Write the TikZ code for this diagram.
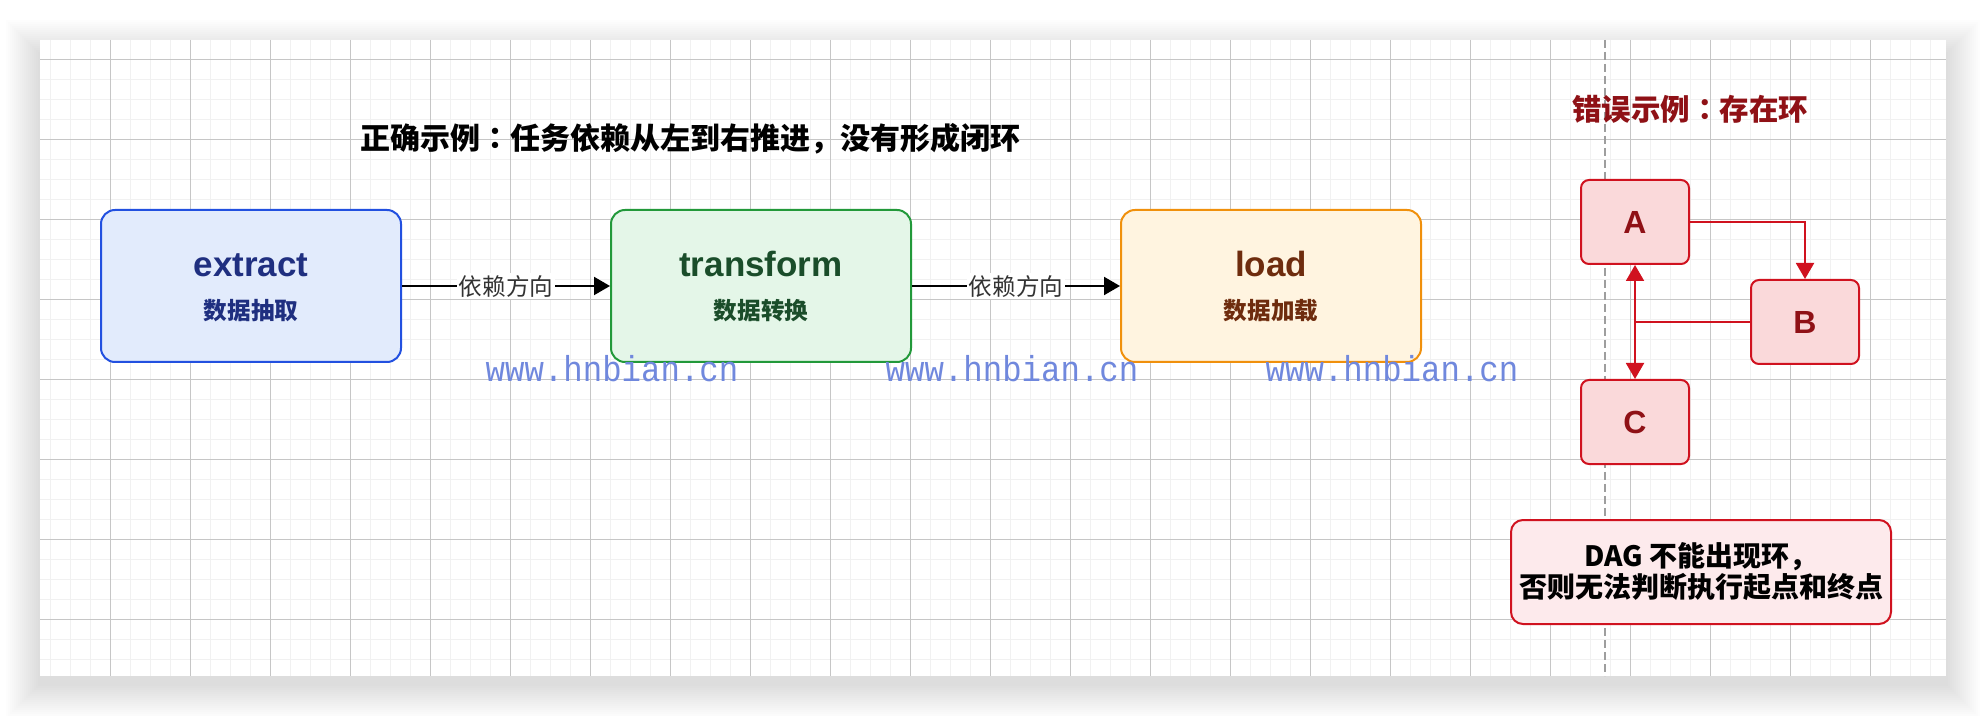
\documentclass[tikz,border=0pt]{standalone}
\usepackage{fontspec}
\setmainfont{Liberation Sans}
\newfontfamily\cjk{Noto Sans CJK SC}
\newfontfamily\cjktc{Noto Sans CJK TC}
\newfontfamily\wmfont[FakeStretch=0.9]{Liberation Mono}
\usetikzlibrary{arrows.meta}
\definecolor{gridminor}{HTML}{F1F1F1}
\definecolor{gridmajor}{HTML}{C6C6C6}
\definecolor{extractdraw}{HTML}{2250E0}
\definecolor{extractfill}{HTML}{E2EBFC}
\definecolor{extracttext}{HTML}{1F2F80}
\definecolor{transformdraw}{HTML}{22993A}
\definecolor{transformfill}{HTML}{E4F6E8}
\definecolor{transformtext}{HTML}{1A4D2A}
\definecolor{loaddraw}{HTML}{F0900C}
\definecolor{loadfill}{HTML}{FFF4E0}
\definecolor{loadtext}{HTML}{6E2C0E}
\definecolor{errred}{HTML}{D0121F}
\definecolor{errfill}{HTML}{FAD9DA}
\definecolor{notefill}{HTML}{FDEAEC}
\definecolor{errtext}{HTML}{8F1116}
\definecolor{labelgray}{HTML}{333333}
\definecolor{wmblue}{HTML}{7088DD}
\begin{document}
\begin{tikzpicture}[x=0.5pt,y=-0.5pt,
  minorline/.style={draw=gridminor,line width=0.75pt},
  majorline/.style={draw=gridmajor,line width=0.5pt},
  stage/.style={rounded corners=7pt,line width=1pt,minimum width=150pt,minimum height=76pt,inner sep=0pt},
  stagename/.style={anchor=base,font=\bfseries\fontsize{17.5}{20}\selectfont},
  stagesub/.style={anchor=base,font=\cjk\bfseries\fontsize{11.8}{14}\selectfont},
  flow/.style={-{Triangle[length=8pt,width=9pt]},line width=1pt},
  flowlbl/.style={fill=white,inner sep=1pt,text=labelgray,font=\cjk\fontsize{11.8}{14}\selectfont},
  cyclebox/.style={rounded corners=4pt,line width=1pt,draw=errred,fill=errfill,minimum width=54pt,minimum height=42pt,inner sep=0pt,text=errtext,font=\bfseries\fontsize{16}{19}\selectfont},
  cycleflow/.style={-{Triangle[length=8pt,width=9pt]},line width=1pt,draw=errred},
  watermark/.style={anchor=base,inner sep=0pt,text=wmblue,font=\wmfont\fontsize{18}{20}\selectfont}]
  \useasboundingbox (0,0) rectangle (1986,716);
  \fill[white] (0,0) rectangle (1986,716);
  \foreach \r in {2,4,...,34}
    \fill[black,fill opacity=0.008] (40-\r,54-\r) rectangle (1946+\r,684+\r);
  \fill[white] (40,40) rectangle (1946,676);
  \foreach \x in {50.7,70.7,...,1940} \draw[minorline] (\x,40) -- (\x,676);
  \foreach \y in {59.3,79.3,...,670} \draw[minorline] (40,\y) -- (1946,\y);
  \foreach \x in {110.7,190.7,...,1940} \draw[majorline] (\x,40) -- (\x,676);
  \foreach \y in {59.3,139.3,...,670} \draw[majorline] (40,\y) -- (1946,\y);
  \draw[gridmajor!80!black,line width=0.75pt,dash pattern=on 4pt off 2pt] (1605,40) -- (1605,676);

  \node[font=\cjk\bfseries\fontsize{15}{18}\selectfont] (goodtitle) at (690,139) {正确示例{\cjktc ：}任务依赖从左到右推进，没有形成闭环};

  \node[stage,draw=extractdraw,fill=extractfill] (extract) at (251,286) {};
  \node[stage,draw=transformdraw,fill=transformfill] (transform) at (761,286) {};
  \node[stage,draw=loaddraw,fill=loadfill] (load) at (1271,286) {};
  \node[stagename,text=extracttext] (extractname) at (251,277) {extract};
  \node[stagesub,text=extracttext] (extractsub) at (251,320) {数据抽取};
  \node[stagename,text=transformtext] (transformname) at (761,277) {transform};
  \node[stagesub,text=transformtext] (transformsub) at (761,320) {数据转换};
  \node[stagename,text=loadtext] (loadname) at (1271,277) {load};
  \node[stagesub,text=loadtext] (loadsub) at (1271,320) {数据加载};
  \draw[flow] (extract) -- node[flowlbl] {依赖方向} (transform);
  \draw[flow] (transform) -- node[flowlbl] {依赖方向} (load);

  \node[text=errtext,font=\cjk\bfseries\fontsize{14.75}{18}\selectfont] (badtitle) at (1690,109) {错误示例{\cjktc ：}存在环};
  \node[cyclebox] (A) at (1635,222) {A};
  \node[cyclebox] (B) at (1805,322) {B};
  \node[cyclebox] (C) at (1635,422) {C};
  \draw[cycleflow] (A.east) -| (B.north);
  \draw[cycleflow] (B.west) -| (A.south);
  \draw[cycleflow] (B.west) -| (C.north);
  \node[rounded corners=6pt,line width=1pt,draw=errred,fill=notefill,minimum width=190pt,minimum height=52pt,align=center,font=\cjk\bfseries\fontsize{14}{15.5}\selectfont] (note) at (1701,572) {DAG 不能出现环，\\否则无法判断执行起点和终点};

  \node[watermark] (wm1) at (612,382) {www.hnbian.cn};
  \node[watermark] (wm2) at (1012,382) {www.hnbian.cn};
  \node[watermark] (wm3) at (1392,382) {www.hnbian.cn};
\end{tikzpicture}
\end{document}
